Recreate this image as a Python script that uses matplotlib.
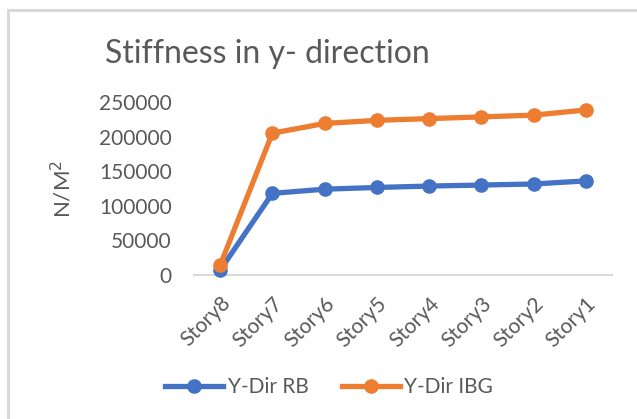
import matplotlib
matplotlib.use("Agg")
import matplotlib.pyplot as plt
from matplotlib.lines import Line2D

# data
stories = ["Story8", "Story7", "Story6", "Story5", "Story4", "Story3", "Story2", "Story1"]
y_dir_rb = [7000, 118000, 124000, 126500, 128500, 130000, 131500, 136000]
y_dir_ibg = [14000, 205000, 219000, 223500, 226000, 228500, 231000, 238500]

BLUE = "#4472c4"
ORANGE = "#ed7d31"
TEXT = "#595959"
plt.rcParams["font.family"] = ["Lato", "DejaVu Sans"]

W, H = 637, 419
fig = plt.figure(figsize=(W / 100, H / 100), dpi=100)

# chart frame (top and left edges visible)
fig.add_artist(Line2D([8 / W, 8 / W], [0, 1 - 10 / H], color="#d9d9d9", lw=2.2,
                      transform=fig.transFigure))
fig.add_artist(Line2D([8 / W, 1], [1 - 10 / H, 1 - 10 / H], color="#d9d9d9", lw=2.2,
                      transform=fig.transFigure))

ax = fig.add_axes([194 / W, 1 - 275 / H, 418 / W, 173 / H])
x = range(len(stories))
ax.plot(x, y_dir_rb, color=BLUE, lw=3.8, marker="o", ms=9.5, label="Y-Dir RB", zorder=3)
ax.plot(x, y_dir_ibg, color=ORANGE, lw=3.8, marker="o", ms=9.5, label="Y-Dir IBG", zorder=4)

ax.set_xlim(-0.5, len(stories) - 0.5)
ax.set_ylim(0, 250000)
ax.set_yticks([0, 50000, 100000, 150000, 200000, 250000])
ax.set_yticklabels(["0", "50000", "100000", "150000", "200000", "250000"])
ax.set_xticks(list(x))
ax.set_xticklabels(stories, rotation=45, ha="right", rotation_mode="anchor")
ax.tick_params(axis="y", length=0, pad=16, labelsize=15, labelcolor=TEXT)
ax.tick_params(axis="x", length=0, pad=13, labelsize=15, labelcolor=TEXT)
for s in ["top", "right", "left"]:
    ax.spines[s].set_visible(False)
ax.spines["bottom"].set_color("#d9d9d9")
ax.spines["bottom"].set_linewidth(1.5)
ax.spines["bottom"].set_zorder(1)
for m in ax.lines:
    m.set_clip_on(False)

ax.set_ylabel("N/M$^2$", fontsize=16, color=TEXT)
ax.yaxis.set_label_coords(-0.285, 0.5)

fig.text(267 / W, 1 - 54 / H, "Stiffness in y- direction", fontsize=23, color=TEXT,
         ha="center", va="center")

fig.legend(loc="center", bbox_to_anchor=(329 / W, 1 - 387 / H), ncol=2, frameon=False,
           fontsize=15, labelcolor=TEXT, handlelength=2.8, handletextpad=0.2,
           columnspacing=1.6)

fig.savefig("out.png", dpi=100)
